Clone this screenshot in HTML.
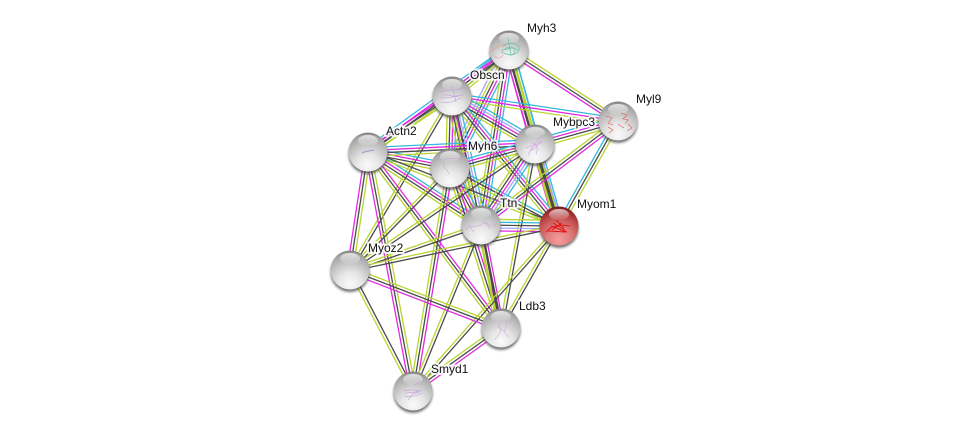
<!DOCTYPE html>
<html><head><meta charset="utf-8"><style>
html,body{margin:0;padding:0;background:#fff;width:975px;height:436px;overflow:hidden}
svg{display:block}
text{font:12px "Liberation Sans",sans-serif;fill:#111;paint-order:stroke;stroke:rgba(255,255,255,.85);stroke-width:4px;stroke-linejoin:round}
</style></head><body>
<svg id="s" xmlns="http://www.w3.org/2000/svg" width="975" height="436" viewBox="0 0 975 436">
<defs>
<radialGradient id="g" cx=".5" cy=".85" r=".85"><stop offset="0" stop-color="#fafafa"/><stop offset=".35" stop-color="#e6e6e6"/><stop offset=".7" stop-color="#bcbcbc"/><stop offset=".9" stop-color="#a2a2a2"/><stop offset="1" stop-color="#7c7c7c"/></radialGradient>
<radialGradient id="r" cx=".5" cy=".85" r=".85"><stop offset="0" stop-color="#f59c9c"/><stop offset=".38" stop-color="#e07c7c"/><stop offset=".72" stop-color="#bf4a4a"/><stop offset=".9" stop-color="#962a2a"/><stop offset="1" stop-color="#741616"/></radialGradient>
<linearGradient id="h" x1="0" y1="0" x2="0" y2="1"><stop offset="0" stop-color="#fff" stop-opacity=".7"/><stop offset="1" stop-color="#fff" stop-opacity=".05"/></linearGradient>
<filter id="b" x="-30%" y="-30%" width="160%" height="160%"><feGaussianBlur stdDeviation="1.2"/></filter>
</defs>
<g id="e" fill="none"></g>
<g id="n"></g>
<g fill="none" stroke-width=".6">
<path d="M503 47c4-5 10-4 14-2s2 7-2 9-8 0-12-1 3-6 8-6 5 6 1 8M508 38l3 18M505 50c5-3 10-2 13 0" stroke="#4cc29a"/>
<path d="M491 52c4-5 9-6 14-8M493 55c4 5 8 3 10 0" stroke="#e09a80"/>
<path d="M440 92c6-3 14 0 24-5M440 97c8 3 14-2 24-2M441 102c6 2 12 0 20-4M452 86l4 16M443 95c6-1 10 3 16 1" stroke="#c49ae0"/>
<path d="M362 153c4-2 8-2 12-3" stroke="#a48fd0" stroke-width="1"/>
<path d="M443 160c6-2 12-2 18-1M444 160c-1 5 0 9 3 10l2 4" stroke="#cfa5e0"/>
<path d="M528 155c3-6 6-10 9-14l6-7M531 142c5 2 8 6 5 12M526 148c5-2 12-4 16-6M530 150c5 0 8-6 11-9" stroke="#cc9ae0"/>
<path d="M606 116l6 2-4 5 5 2M608 127l5 3-4 3M621 113l6 2-4 4 5 1-3 4M618 124l6 4M628 124l4 4-5 3" stroke="#e0554f"/>
<path d="M466 229c4-4 8-2 12-3s6-5 10-2 5 3 9-1M468 224l6 8M484 220l6 9" stroke="#cfa5e0"/>
<path d="M546 232c5-6 14-8 24-6M551 226l16 6M556 220l8 8M548 231l18 1M553 223l12 7M552 230l10-7" stroke="#e01515" stroke-width="1"/>
<path d="M494 340c4-4 8-8 6-12s0-8 4-8 3 5 1 9 2 6 4 8M497 326l8 6" stroke="#c9b0dd"/>
<path d="M404 396c6 2 12 0 18-3M404 391c5-2 14 0 18-1M408 400c4-6 8-10 10-8M414 385l10-4M405 394c5-4 10 2 15-3" stroke="#c49ad8"/>
</g>
<g>
<text x="527" y="32">Myh3</text>
<text x="470" y="79">Obscn</text>
<text x="636" y="103">Myl9</text>
<text x="553" y="126">Mybpc3</text>
<text x="386" y="135">Actn2</text>
<text x="468" y="150">Myh6</text>
<text x="500" y="207">Ttn</text>
<text x="577" y="208">Myom1</text>
<text x="368" y="252">Myoz2</text>
<text x="519" y="310">Ldb3</text>
<text x="431" y="373">Smyd1</text>
</g>
</svg>
<script>
var P={h3:[509,50],ob:[452,96],ac:[368,152],h6:[450,168],mb:[535,144],l9:[618,121],tt:[481,225],mo:[559,226],mz:[350,270],ld:[501,328],sm:[413,391]};
var C={c:"#35b8de",m:"#e02be0",d:"#4a4a4a",l:"#b8d530",b:"#aaa5ff"};
var E="h3-ob ldmc,h3-l9 ldm,h3-mb cldm,h3-h6 cmdlb,h3-tt cmdl,h3-mo cLDm,h3-ac ldmc,ob-l9 cml,ob-mb cbmdl,ob-h6 cmdl,ob-tt cbmdl,ob-mo cmdl,ob-ac ldm,ob-mz dl,ob-ld dl,ac-h6 cmdl,ac-mb cmdl,ac-tt cmdl,ac-mo dl,ac-mz ldm,ac-ld mdl,ac-sm ldm,h6-mb cmdl,h6-tt cmdl,h6-mo cdl,h6-mz dl,h6-ld mdl,h6-sm mdl,mb-l9 cmdl,mb-mo bDL,mb-tt cbmdl,mb-mz dl,mb-ld dl,l9-mo ldc,l9-tt mdl,tt-mo lcdbm,tt-mz dl,tt-ld mDL,tt-sm dl,mo-mz dl,mo-ld dl,mo-sm dl,mz-ld ldm,mz-sm dl,ld-sm mdl".split(",");
var N="http://www.w3.org/2000/svg",e=document.getElementById("e"),n=document.getElementById("n");
function el(t,a,p){var x=document.createElementNS(N,t);for(var k in a)x.setAttribute(k,a[k]);p.appendChild(x);return x}
E.forEach(function(s){var q=s.split(" "),u=q[0].split("-"),a=P[u[0]],b=P[u[1]],cs=q[1],dx=b[0]-a[0],dy=b[1]-a[1],L=Math.hypot(dx,dy),nx=-dy/L,ny=dx/L,st=2.9;
for(var i=0;i<cs.length;i++){var o=(i-(cs.length-1)/2)*st,ch=cs[i],up=ch!=ch.toLowerCase();el("line",{x1:a[0]+nx*o,y1:a[1]+ny*o,x2:b[0]+nx*o,y2:b[1]+ny*o,stroke:C[ch.toLowerCase()],"stroke-width":up?2.4:1.3},e)}});
for(var k in P){var c=P[k],x=c[0],y=c[1],red=k=="mo";
el("ellipse",{cx:x,cy:y+2.5,rx:19.5,ry:19.5,fill:"#444",opacity:.75,filter:"url(#b)"},n);
el("circle",{cx:x,cy:y,r:19.5,fill:red?"url(#r)":"url(#g)"},n);
el("ellipse",{cx:x,cy:y-11.5,rx:10,ry:5.5,fill:"url(#h)"},n);}
</script>
</body></html>
